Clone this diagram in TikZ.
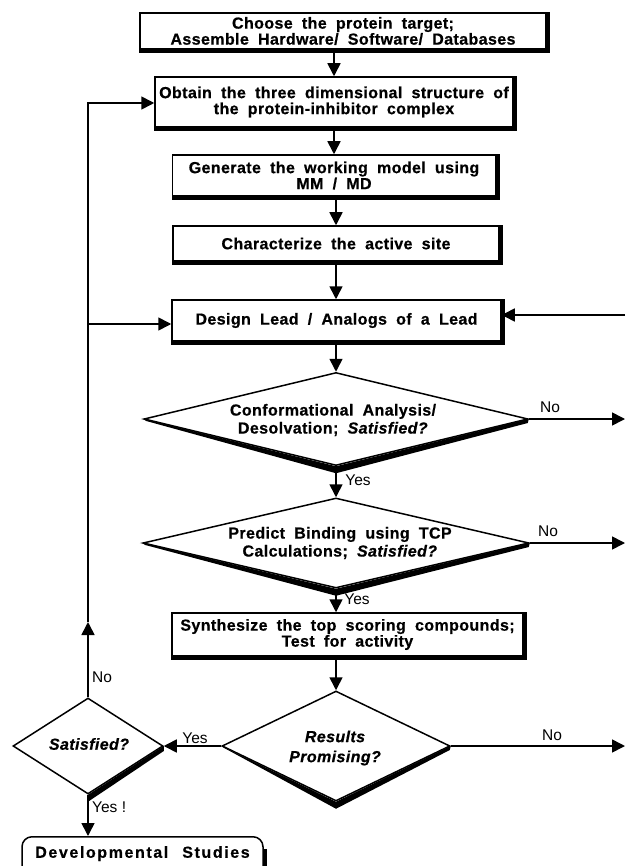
\documentclass[tikz,border=0pt]{standalone}
\usepackage{fontspec}
\setmainfont{Liberation Sans}[LetterSpace=2.5,WordSpace=1.9,BoldFeatures={FakeBold=0.6},BoldItalicFeatures={FakeBold=0.6}]
\newfontfamily\lblfont{Liberation Sans}
\newfontfamily\devfont{Liberation Sans}[LetterSpace=10,BoldFeatures={FakeBold=0.6}]
\usetikzlibrary{arrows.meta,shapes.geometric,calc}
\tikzset{
  conn/.style={line width=1.6pt},
  arr/.style={conn,-{Triangle[length=13pt,width=13pt]}},
  box/.style={draw,line width=1.5pt,fill=white,inner sep=0pt,align=center,
     font=\bfseries\fontsize{16}{16}\selectfont},
  dia/.style={diamond,draw,line width=1.5pt,fill=white,inner sep=0pt},
  dtext/.style={align=center,inner sep=0pt,font=\bfseries\fontsize{16}{18}\selectfont},
  lbl/.style={font=\lblfont\fontsize{15.5}{15.5}\selectfont,inner sep=0pt},
  shad/.style={line width=4pt},
}
\begin{document}
\begin{tikzpicture}[x=1pt,y=-1pt]
\useasboundingbox (0,0) rectangle (625,866);
\clip (0,0) rectangle (625,866);
\fill[white] (0,0) rectangle (625,866);

% boxes
\node[box,minimum width=406pt,minimum height=36pt] (b1) at (343,31) {Choose the protein target;\\Assemble Hardware/ Software/ Databases};
\node[box,minimum width=358pt,minimum height=50pt] (b2) at (334,102) {Obtain the three dimensional structure of\\the protein-inhibitor complex};
\node[box,minimum width=323pt,minimum height=41pt] (b3) at (334,175.5) {Generate the working model using\\MM / MD};
\node[box,minimum width=326pt,minimum height=35pt] (b4) at (336,243.5) {Characterize the active site};
\node[box,minimum width=329pt,minimum height=41pt] (b5) at (336.5,320.5) {Design Lead / Analogs of a Lead};
\node[box,minimum width=351pt,minimum height=43pt] (b6) at (347.5,634.5) {Synthesize the top scoring compounds;\\Test for activity};

\foreach \n in {b1,b2,b3,b4,b5,b6}{
  \draw[shad] ([xshift=1.5pt]\n.north east) -- ([xshift=1.5pt,yshift=-1.5pt]\n.south east) -- ([yshift=-1.5pt]\n.south west);
}

% diamonds
\node[dia,minimum width=384pt,minimum height=93pt] (d1) at (336,419) {};
\node[dia,minimum width=386pt,minimum height=90pt] (d2) at (336,543) {};
\node[dia,minimum width=228pt,minimum height=110pt] (d3) at (336,746) {};
\node[dia,minimum width=150pt,minimum height=96pt] (d4) at (88,746) {};

\foreach \n in {d1,d2,d3}{
  \fill (\n.west) -- (\n.south) -- (\n.east) -- ($(\n.east)+(-1,4)$) -- ($(\n.south)+(0,7)$) -- ($(\n.west)+(3,2)$) -- cycle;
}
\fill (d4.south) -- (d4.east) -- ($(d4.east)+(0,5)$) -- ($(d4.south)+(0,7)$) -- cycle;

\node[dtext] (t1) at (333,420) {Conformational Analysis/\\Desolvation; \textit{Satisfied?}};
\node[dtext] (t2) at (340,543) {Predict Binding using TCP\\Calculations; \textit{Satisfied?}};
\node[dtext,font=\bfseries\itshape\fontsize{16}{20}\selectfont] (t3) at (335,748) {Results\\Promising?};
\node[dtext,font=\bfseries\itshape\fontsize{16}{18}\selectfont] (t4) at (89,744) {Satisfied?};

% final box
\node[draw,line width=1.5pt,rounded corners=10pt,minimum width=241pt,inner xsep=0pt,inner ysep=0pt,
      text height=21pt,text depth=23pt,anchor=north,
      font=\devfont\bfseries\fontsize{16}{16}\selectfont] (dev) at (142.5,836) {Developmental\hspace{14pt}Studies};
\draw[line width=3.5pt] ([xshift=1pt,yshift=10pt]dev.east) -- ([xshift=1pt,yshift=-12pt]dev.east);

% coordinates
\coordinate (edge) at (625,0);
\coordinate (fb) at (625,315);
\coordinate (lup) at (88,622);
\coordinate (ltop) at (88,103);
\coordinate (lmid) at (88,324);

% connectors
\draw[arr] (b1.south -| b2.north) -- (b2.north);
\draw[arr] (b2.south -| b3.north) -- (b3.north);
\draw[arr] (b3.south -| b4.north) -- (b4.north);
\draw[arr] (b4.south) -- (b4.south |- b5.north);
\draw[arr] (b5.south -| d1.north) -- (d1.north);
\draw[arr] (d1.south) -- (d2.north);
\draw[arr] (d2.south) -- (b6.north -| d2.south);
\draw[arr] (b6.south -| d3.north) -- (d3.north);
\draw[arr] (d1.east) -- (d1.east -| edge);
\draw[arr] (d2.east) -- (d2.east -| edge);
\draw[arr] (d3.east) -- (d3.east -| edge);
\draw[arr] (fb) -- (fb -| b5.east);
\draw[arr] (d3.west) -- (d4.east);
\draw[arr] (d4.north) -- (lup);
\draw[arr] (lup) -- (ltop) -- (ltop -| b2.west);
\draw[arr] (lmid) -- (lmid -| b5.west);
\draw[arr] (d4.south) -- (dev.north -| d4.south);

% labels
\node[lbl] (n1) at (550,407) {No};
\node[lbl] (n2) at (548,531) {No};
\node[lbl] (n3) at (552,735) {No};
\node[lbl] (y1) at (358,480) {Yes};
\node[lbl] (y2) at (357,599) {Yes};
\node[lbl] (y3) at (195,738) {Yes};
\node[lbl,anchor=west] (n4) at (92,677) {No};
\node[lbl,anchor=west] (y4) at (92,807) {Yes !};
\end{tikzpicture}
\end{document}
